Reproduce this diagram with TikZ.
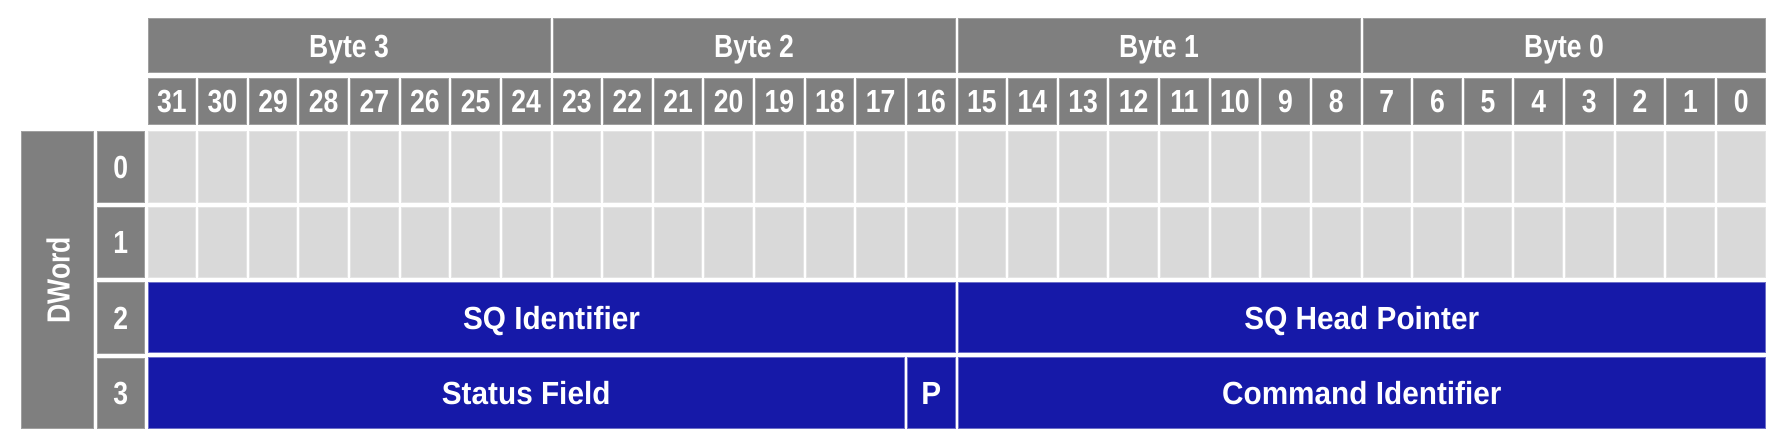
\documentclass[tikz,border=0pt]{standalone}
\usepackage{fontspec}
\setmainfont{Liberation Sans}
\newfontfamily\narrowf{Liberation Sans}[FakeStretch=0.83]
\newfontfamily\widef{Liberation Sans}[FakeStretch=0.93]
\definecolor{hdrgray}{HTML}{7F7F7F}
\definecolor{hdredge}{HTML}{A0A0A0}
\definecolor{cellgray}{HTML}{D9D9D9}
\definecolor{celledge}{HTML}{E4E4E4}
\definecolor{fieldblue}{HTML}{1619A8}
\definecolor{fieldedge}{HTML}{6E70C8}
\begin{document}
\begin{tikzpicture}[x=1pt,y=-1pt,
  hdr/.style={fill=hdrgray, draw=hdredge, line width=0.8pt, inner sep=0pt,
    text=white, text height=23pt, text depth=0pt,
    font=\narrowf\bfseries\fontsize{32}{32}\selectfont},
  cell/.style={fill=cellgray, draw=celledge, line width=0.8pt, inner sep=0pt,
    minimum width=47.6pt, minimum height=70.5pt},
  field/.style={fill=fieldblue, draw=fieldedge, line width=0.8pt, inner sep=0pt,
    text=white, text height=23pt, text depth=0pt, minimum height=70.5pt,
    font=\widef\bfseries\fontsize{32}{32}\selectfont}]
\useasboundingbox (0,0) rectangle (1786,445);
% byte headers
\foreach \j in {0,...,3}{
  \pgfmathsetmacro\cx{148+\j*405+201}
  \pgfmathtruncatemacro\bn{3-\j}
  \node[hdr, minimum width=402pt, minimum height=54pt] (byte\bn) at (\cx,45.6) {Byte \bn};
}
% bit numbers
\foreach \k in {0,...,31}{
  \pgfmathsetmacro\cx{148+\k*50.625+23.8}
  \pgfmathtruncatemacro\bn{31-\k}
  \node[hdr, minimum width=47.6pt, minimum height=46pt] (bit\bn) at (\cx,101) {\bn};
}
% reserved cells, dwords 0 and 1
\foreach \r in {0,1}{
  \foreach \k in {0,...,31}{
    \pgfmathsetmacro\cx{148+\k*50.625+23.8}
    \pgfmathsetmacro\cy{131.7+\r*75.5+35.25}
    \pgfmathtruncatemacro\bn{31-\k}
    \node[cell] (c\r-\bn) at (\cx,\cy) {};
  }
}
% row labels
\foreach \r in {0,...,3}{
  \pgfmathsetmacro\cy{131.7+\r*75.5+35.25}
  \node[hdr, minimum width=46.3pt, minimum height=70.5pt] (row\r) at (120.85,\cy) {\r};
}
% DWord label
\node[hdr, minimum width=71.6pt, minimum height=297pt] (dword) at (57.5,280.2) {};
\node[hdr, draw=none, fill=none, rotate=90, text height=24pt] (dwordtext) at (dword.center) {DWord};
% fields
\node[field, minimum width=807pt] (sqid) at (551.5,317.5) {SQ Identifier};
\node[field, minimum width=807.6pt] (sqhp) at (1361.8,317.5) {SQ Head Pointer};
\node[field, minimum width=756.3pt] (status) at (526.2,393) {Status Field};
\node[field, minimum width=47.6pt] (pbit) at (931.2,393) {P};
\node[field, minimum width=807.6pt] (cmdid) at (1361.8,393) {Command Identifier};
\end{tikzpicture}
\end{document}
